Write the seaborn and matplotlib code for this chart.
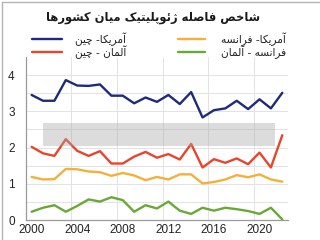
import matplotlib
matplotlib.use("Agg")
import matplotlib.pyplot as plt
from matplotlib.lines import Line2D
from matplotlib.patches import Rectangle
import seaborn as sns
import pandas as pd

years = list(range(2000, 2023))
usa_china = [3.45, 3.29, 3.29, 3.86, 3.71, 3.70, 3.74, 3.43, 3.43, 3.22, 3.38, 3.26,
             3.45, 3.20, 3.53, 2.83, 3.03, 3.08, 3.29, 3.06, 3.33, 3.08, 3.51]
germany_china = [2.02, 1.84, 1.77, 2.23, 1.91, 1.77, 1.90, 1.56, 1.56, 1.75, 1.88, 1.72,
                 1.82, 1.67, 2.10, 1.45, 1.68, 1.58, 1.70, 1.54, 1.86, 1.45, 2.34]
usa_france = [1.19, 1.12, 1.13, 1.41, 1.40, 1.34, 1.32, 1.22, 1.30, 1.23, 1.10, 1.19,
              1.12, 1.26, 1.26, 1.01, 1.05, 1.12, 1.24, 1.18, 1.26, 1.12, 1.06]
france_germany = [0.23, 0.34, 0.41, 0.23, 0.39, 0.57, 0.51, 0.63, 0.55, 0.23, 0.41, 0.32,
                  0.51, 0.26, 0.17, 0.34, 0.26, 0.34, 0.30, 0.25, 0.17, 0.34, 0.02]

series_names = ["آمریکا- چین", "آلمان - چین", "آمریکا- فرانسه", "فرانسه - آلمان"]
colors = ["#1f2a7c", "#e8452c", "#f3b03a", "#6aa838"]
title = "شاخص فاصله ژئوپلیتیک میان کشورها"
xtick_labels = ["2000", "2004", "2008", "2012", "2016", "2020"]
ytick_values = [0, 1, 2, 3, 4]

# --- minimal Persian shaper (presentation forms + visual reversal) ---
FORMS = {
    "\u0627": ("\uFE8D", "\uFE8E"), "\u0622": ("\uFE81", "\uFE82"),
    "\u0628": ("\uFE8F", "\uFE90", "\uFE91", "\uFE92"),
    "\u067E": ("\uFB56", "\uFB57", "\uFB58", "\uFB59"),
    "\u062A": ("\uFE95", "\uFE96", "\uFE97", "\uFE98"),
    "\u062C": ("\uFE9D", "\uFE9E", "\uFE9F", "\uFEA0"),
    "\u0686": ("\uFB7A", "\uFB7B", "\uFB7C", "\uFB7D"),
    "\u062E": ("\uFEA5", "\uFEA6", "\uFEA7", "\uFEA8"),
    "\u062F": ("\uFEA9", "\uFEAA"), "\u0631": ("\uFEAD", "\uFEAE"),
    "\u0632": ("\uFEAF", "\uFEB0"), "\u0698": ("\uFB8A", "\uFB8B"),
    "\u0633": ("\uFEB1", "\uFEB2", "\uFEB3", "\uFEB4"),
    "\u0634": ("\uFEB5", "\uFEB6", "\uFEB7", "\uFEB8"),
    "\u0635": ("\uFEB9", "\uFEBA", "\uFEBB", "\uFEBC"),
    "\u0641": ("\uFED1", "\uFED2", "\uFED3", "\uFED4"),
    "\u0642": ("\uFED5", "\uFED6", "\uFED7", "\uFED8"),
    "\u06A9": ("\uFB8E", "\uFB8F", "\uFB90", "\uFB91"),
    "\u0643": ("\uFED9", "\uFEDA", "\uFEDB", "\uFEDC"),
    "\u06AF": ("\uFB92", "\uFB93", "\uFB94", "\uFB95"),
    "\u0644": ("\uFEDD", "\uFEDE", "\uFEDF", "\uFEE0"),
    "\u0645": ("\uFEE1", "\uFEE2", "\uFEE3", "\uFEE4"),
    "\u0646": ("\uFEE5", "\uFEE6", "\uFEE7", "\uFEE8"),
    "\u0647": ("\uFEE9", "\uFEEA", "\uFEEB", "\uFEEC"),
    "\u0648": ("\uFEED", "\uFEEE"),
    "\u06CC": ("\uFBFC", "\uFBFD", "\uFBFE", "\uFBFF"),
    "\u064A": ("\uFEF1", "\uFEF2", "\uFEF3", "\uFEF4"),
    "\u0626": ("\uFE89", "\uFE8A", "\uFE8B", "\uFE8C"),
}


def shape(text):
    out = []
    n = len(text)
    for i, ch in enumerate(text):
        if ch not in FORMS:
            out.append(ch)
            continue
        f = FORMS[ch]
        prev = text[i - 1] if i > 0 else None
        nxt = text[i + 1] if i + 1 < n else None
        jp = prev in FORMS and len(FORMS[prev]) == 4
        jn = len(f) == 4 and nxt in FORMS
        if jp and jn:
            out.append(f[3])
        elif jp:
            out.append(f[1])
        elif jn:
            out.append(f[2])
        else:
            out.append(f[0])
    return "".join(out)[::-1]


df = pd.DataFrame({
    "year": years * 4,
    "value": usa_china + germany_china + usa_france + france_germany,
    "series": sum([[s] * len(years) for s in series_names], []),
})

sns.set_style("white")
plt.rcParams["font.family"] = ["DejaVu Sans"]

fig = plt.figure(figsize=(3.2, 2.4), dpi=100)
ax = fig.add_axes([0.081, 0.083, 0.819, 0.68])

sns.lineplot(data=df, x="year", y="value", hue="series", hue_order=series_names,
             palette=colors, linewidth=1.7, legend=False, ax=ax, zorder=3)

ax.set_xlim(1999.5, 2022.5)
ax.set_ylim(0, 4.5)
ax.set_xticks([int(t) for t in xtick_labels])
ax.set_xticklabels(xtick_labels, fontfamily="Liberation Sans", fontsize=8.5)
ax.set_xticks([1999.5, 2003.5, 2007.5, 2011.5, 2015.5, 2019.5], minor=True)
ax.set_yticks(ytick_values)
ax.set_yticklabels([str(v) for v in ytick_values], fontfamily="Liberation Sans", fontsize=8.5)
ax.set_yticks([0.5, 1.5, 2.5, 3.5], minor=True)
ax.tick_params(axis="both", which="both", length=0, colors="#222222")
ax.tick_params(axis="y", pad=8)
ax.tick_params(axis="x", pad=3)
ax.grid(False)
ax.yaxis.grid(True, which="both", color="#e3e3e3", linewidth=0.7)
ax.xaxis.grid(True, which="minor", color="#e3e3e3", linewidth=0.7)
ax.set_xlabel("")
ax.set_ylabel("")
for s in ["top", "right"]:
    ax.spines[s].set_visible(False)
for s in ["left", "bottom"]:
    ax.spines[s].set_color("#9a9a9a")
    ax.spines[s].set_linewidth(0.9)

# watermark band
fig.patches.append(Rectangle((43 / 320, 1 - 146 / 240), 232 / 320, 23 / 240,
                             transform=fig.transFigure, facecolor="#a8a8a8",
                             alpha=0.4, edgecolor="none", zorder=2))

# title
fig.text(153 / 320, 1 - 17 / 240, shape(title), ha="center", va="center",
         fontsize=8.3, fontweight="bold", color="#1a1a1a")

# legend
legend_pos = [
    (32, 62, 126, 39),   # usa-china
    (32, 62, 126, 52),   # germany-china
    (178, 205, 286, 39),  # usa-france
    (178, 205, 286, 52),  # france-germany
]
for (x0, x1, xt, y), name, c in zip(legend_pos, series_names, colors):
    yf = 1 - y / 240
    fig.add_artist(Line2D([x0 / 320, x1 / 320], [yf, yf], color=c, linewidth=1.7,
                          transform=fig.transFigure))
    fig.text(xt / 320, yf, shape(name), ha="right", va="center", fontsize=7.6,
             color="#222222")

# frame
fig.add_artist(Line2D([2 / 320, 2 / 320], [0, 1 - 2 / 240], color="#b5b5b5",
                      linewidth=1, transform=fig.transFigure))
fig.add_artist(Line2D([2 / 320, 1], [1 - 2 / 240, 1 - 2 / 240], color="#b5b5b5",
                      linewidth=1, transform=fig.transFigure))

fig.savefig("out.png", dpi=100)
